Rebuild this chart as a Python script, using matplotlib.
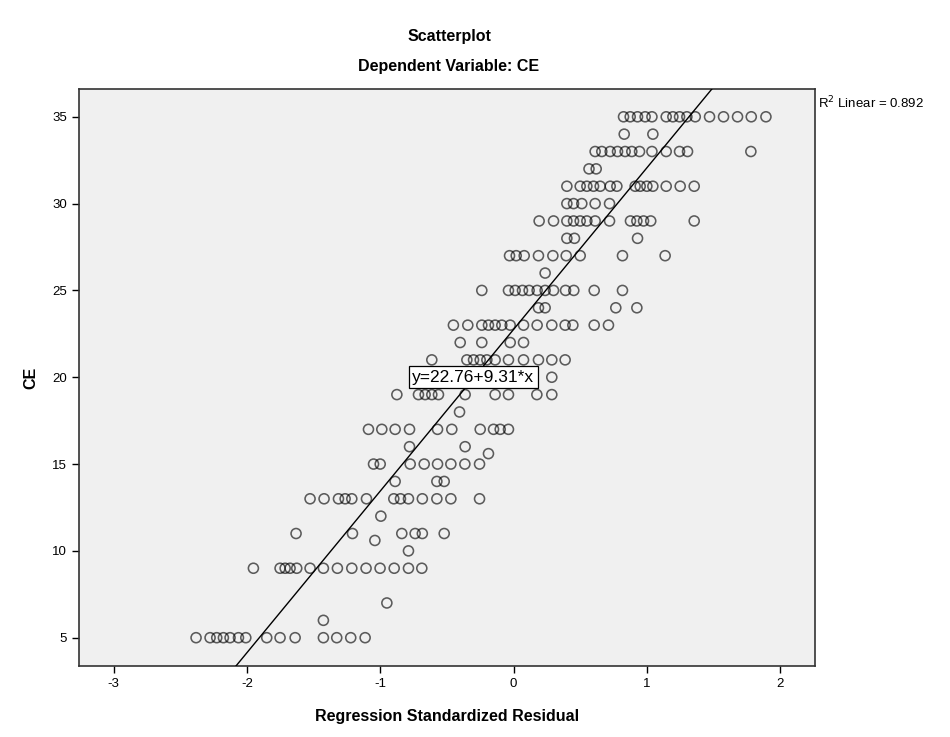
import matplotlib
matplotlib.use("Agg")
import matplotlib.pyplot as plt
import numpy as np

plt.rcParams['font.family'] = ['Liberation Sans', 'DejaVu Sans']
plt.rcParams['axes.unicode_minus'] = False

# regression standardized residuals, grouped by CE value
res_35 = [0.824, 0.874, 0.929, 0.986, 1.037, 1.144, 1.194, 1.244, 1.299, 1.362, 1.469, 1.574, 1.679, 1.782, 1.892]
res_34 = [0.829, 1.044]
res_33 = [0.611, 0.661, 0.724, 0.779, 0.836, 0.886, 0.944, 1.037, 1.144, 1.244, 1.304, 1.779]
res_32 = [0.565, 0.619]
res_31 = [0.399, 0.499, 0.549, 0.599, 0.649, 0.724, 0.774, 0.911, 0.949, 0.999, 1.044, 1.144, 1.249, 1.354]
res_30 = [0.399, 0.449, 0.511, 0.611, 0.719]
res_29 = [0.191, 0.299, 0.399, 0.449, 0.499, 0.549, 0.611, 0.719, 0.876, 0.924, 0.974, 1.028, 1.354]
res_28 = [0.399, 0.456, 0.929]
res_27 = [-0.031, 0.019, 0.079, 0.186, 0.294, 0.394, 0.499, 0.816, 1.136]
res_26 = [0.236]
res_25 = [-0.239, -0.039, 0.011, 0.066, 0.116, 0.176, 0.236, 0.299, 0.389, 0.451, 0.604, 0.816]
res_24 = [0.186, 0.236, 0.766, 0.924]
res_23 = [-0.452, -0.344, -0.239, -0.189, -0.139, -0.089, -0.026, 0.074, 0.176, 0.286, 0.386, 0.444, 0.604, 0.711]
res_22 = [-0.401, -0.239, -0.026, 0.074]
res_21 = [-0.614, -0.351, -0.301, -0.251, -0.201, -0.139, -0.039, 0.074, 0.186, 0.286, 0.386]
res_20 = [-0.55, -0.35, -0.15, 0.05, 0.286]
res_19 = [-0.876, -0.714, -0.664, -0.614, -0.564, -0.364, -0.139, -0.039, 0.174, 0.286]
res_18 = [-0.406]
res_17 = [-1.089, -0.989, -0.889, -0.781, -0.571, -0.464, -0.251, -0.151, -0.101, -0.039]
res_16 = [-0.781, -0.364]
res_15_6 = [-0.189]
res_15 = [-1.051, -1.001, -0.776, -0.671, -0.571, -0.471, -0.366, -0.256]
res_14 = [-0.889, -0.576, -0.521]
res_13 = [-1.527, -1.422, -1.314, -1.264, -1.214, -1.104, -0.899, -0.849, -0.789, -0.685, -0.576, -0.471, -0.256]
res_12 = [-0.996]
res_11 = [-1.632, -1.209, -0.839, -0.739, -0.685, -0.521]
res_10_6 = [-1.041]
res_10 = [-0.789]
res_9 = [-1.952, -1.752, -1.714, -1.677, -1.627, -1.527, -1.427, -1.322, -1.214, -1.107, -1.002, -0.896, -0.789, -0.689]
res_7 = [-0.951]
res_6 = [-1.427]
res_5 = [-2.382, -2.277, -2.227, -2.177, -2.127, -2.064, -2.009, -1.852, -1.752, -1.639, -1.427, -1.327, -1.222, -1.114]

ce_values = [35, 34, 33, 32, 31, 30, 29, 28, 27, 26, 25, 24, 23, 22, 21, 20, 19, 18, 17, 16, 15.6, 15,
             14, 13, 12, 11, 10.6, 10, 9, 7, 6, 5]
groups = [res_35, res_34, res_33, res_32, res_31, res_30, res_29, res_28, res_27, res_26, res_25, res_24,
          res_23, res_22, res_21, res_20, res_19, res_18, res_17, res_16, res_15_6, res_15,
          res_14, res_13, res_12, res_11, res_10_6, res_10, res_9, res_7, res_6, res_5]

# fit line coefficients and R squared as printed on chart
intercept = 22.76
slope = 9.31
r2 = 0.892

x_ticks = [-3, -2, -1, 0, 1, 2]
y_ticks = [5, 10, 15, 20, 25, 30, 35]

resid = np.concatenate([np.array(g, dtype=float) for g in groups])
ce = np.concatenate([np.full(len(g), v, dtype=float) for g, v in zip(groups, ce_values)])

fig = plt.figure(figsize=(9.5, 7.37), dpi=100)
ax = fig.add_axes([79/950, 1 - 666/737, (815 - 79)/950, (666 - 89)/737])
ax.set_facecolor('#f0f0f0')

ax.scatter(resid, ce, s=52, facecolors='none', edgecolors='black', linewidths=1.15, alpha=0.62, zorder=3)

xlim = (-3.26, 2.26)
ylim = (3.37, 36.6)
xs = np.array(xlim)
ax.plot(xs, intercept + slope * xs, color='black', linewidth=1.0, zorder=4)
ax.set_xlim(xlim)
ax.set_ylim(ylim)

ax.text(-0.304, 20.0, 'y=22.76+9.31*x', ha='center', va='center', fontsize=12.5, zorder=6,
        bbox=dict(boxstyle='square,pad=0.2', facecolor='white', edgecolor='black', linewidth=0.9))

fig.text(818/950, 1 - 103/737, 'R$^2$ Linear = %.3f' % r2, fontsize=9.5, ha='left', va='center')

ax.set_xticks(x_ticks)
ax.set_yticks(y_ticks)
ax.tick_params(direction='out', length=5, width=1, labelsize=9.5, colors='black')
for sp in ax.spines.values():
    sp.set_color('#333333')
    sp.set_linewidth(1.2)

ax.set_xlabel('Regression Standardized Residual', fontsize=11.5, fontweight='bold', labelpad=14)
ax.set_ylabel('CE', fontsize=11.5, fontweight='bold', labelpad=10)

fig.text(449/950, 1 - 36/737, 'Scatterplot', fontsize=11.5, fontweight='bold', ha='center', va='center')
fig.text(449/950, 1 - 66/737, 'Dependent Variable: CE', fontsize=11.5, fontweight='bold', ha='center', va='center')

fig.savefig('out.png', dpi=100)
